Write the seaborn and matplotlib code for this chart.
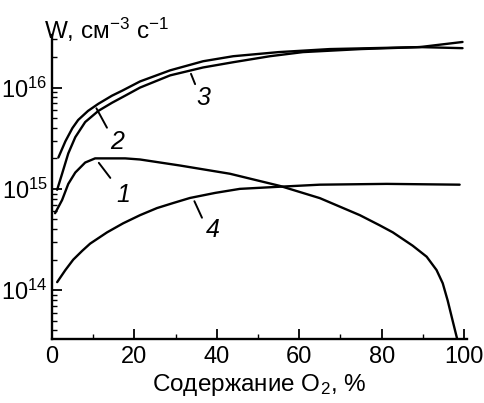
import matplotlib
matplotlib.use("Agg")
import matplotlib.pyplot as plt
import seaborn as sns
import pandas as pd
from matplotlib.ticker import LogLocator, MultipleLocator, NullFormatter

# Кривые скорости W (см^-3 с^-1) от содержания O2 (%)
x1 = [0.8, 2.5, 4.0, 5.7, 8.1, 10.5, 14.6, 17.8, 21.4, 31.1, 43.2, 55.3, 65.0, 74.7, 79.5, 82.7, 87.5,
      90.9, 93.3, 94.8, 96.0, 97.2, 98.3]
w1 = [5.75e14, 7.76e14, 1.12e15, 1.45e15, 1.82e15, 2.0e15, 2.0e15, 2.0e15, 1.95e15, 1.70e15, 1.41e15, 1.07e15,
      8.1e14, 5.5e14, 4.37e14, 3.72e14, 2.75e14, 2.14e14, 1.58e14, 1.17e14, 7.9e13, 5.0e13, 3.3e13]

x2 = [1.6, 3.3, 5.0, 6.4, 8.8, 11.3, 14.6, 17.1, 21.4, 28.7, 36.7, 44.0, 55.0, 67.4, 89.2, 99.6]
w2 = [2.04e15, 2.95e15, 3.98e15, 4.79e15, 5.89e15, 6.92e15, 8.32e15, 9.33e15, 1.15e16, 1.48e16, 1.82e16,
      2.04e16, 2.24e16, 2.40e16, 2.51e16, 2.82e16]

x3 = [1.3, 2.5, 4.0, 5.7, 8.1, 11.3, 14.6, 17.8, 21.4, 28.7, 36.7, 44.0, 52.9, 60.9, 75.0, 89.2, 99.6]
w3 = [9.8e14, 1.41e15, 2.24e15, 3.24e15, 4.57e15, 5.89e15, 7.08e15, 8.32e15, 1.0e16, 1.32e16, 1.58e16,
      1.78e16, 2.04e16, 2.24e16, 2.40e16, 2.51e16, 2.45e16]

x4 = [1.3, 3.3, 5.2, 7.4, 9.3, 13.4, 17.3, 21.4, 25.5, 29.4, 33.5, 39.6, 45.6, 55.3, 65.0, 81.2, 98.9]
w4 = [1.20e14, 1.58e14, 2.0e14, 2.45e14, 2.88e14, 3.72e14, 4.57e14, 5.5e14, 6.46e14, 7.24e14, 8.13e14,
      9.12e14, 1.0e15, 1.05e15, 1.10e15, 1.12e15, 1.10e15]

# подписи кривых: (номер, текст x, текст W, хвост x, хвост W, острие x, острие W)
labels = [
    ("1", 17.3, 8.7e14, 14.6, 1.22e15, 11.0, 1.9e15),
    ("2", 15.9, 2.9e15, 13.7, 3.8e15, 10.5, 6.6e15),
    ("3", 36.7, 7.9e15, 35.0, 1.02e16, 33.5, 1.45e16),
    ("4", 39.1, 3.9e14, 36.7, 4.9e14, 34.3, 8.0e14),
]

df = pd.concat([
    pd.DataFrame({"x": x1, "W": w1, "curve": "1"}),
    pd.DataFrame({"x": x2, "W": w2, "curve": "2"}),
    pd.DataFrame({"x": x3, "W": w3, "curve": "3"}),
    pd.DataFrame({"x": x4, "W": w4, "curve": "4"}),
])

sns.set_style("ticks")
plt.rcParams["font.family"] = ["Liberation Sans", "DejaVu Sans"]
plt.rcParams["mathtext.default"] = "regular"
plt.rcParams["text.color"] = "black"
plt.rcParams["axes.labelcolor"] = "black"
plt.rcParams["xtick.color"] = "black"
plt.rcParams["ytick.color"] = "black"

fig = plt.figure(figsize=(4.84, 4.03), dpi=100)
ax = fig.add_axes([0.107, 0.159, 0.858, 0.754])

sns.lineplot(data=df, x="x", y="W", hue="curve", units="curve", estimator=None,
             palette=["black"] * 4, linewidth=1.7, legend=False, sort=False, ax=ax)

ax.set_yscale("log")
ax.set_xlim(0, 100.7)
ax.set_ylim(3.3e13, 3.3e16)

ax.xaxis.set_major_locator(MultipleLocator(20))
ax.xaxis.set_minor_locator(MultipleLocator(10))
ax.yaxis.set_major_locator(LogLocator(base=10))
ax.yaxis.set_minor_locator(LogLocator(base=10, subs=range(2, 10)))
ax.yaxis.set_minor_formatter(NullFormatter())

ax.tick_params(which="major", direction="in", length=7, width=1.3, labelsize=17)
ax.tick_params(which="minor", direction="in", length=3.5, width=1.0)
ax.tick_params(axis="x", pad=5)
ax.tick_params(axis="y", pad=3)

sns.despine(ax=ax)
for s in ["left", "bottom"]:
    ax.spines[s].set_linewidth(1.7)
    ax.spines[s].set_color("black")

ax.set_xlabel("Содержание O$_2$, %", fontsize=17.5, labelpad=3)
ax.set_ylabel("")
fig.text(0.09, 0.927, "W, см$^{-3}$ с$^{-1}$", fontsize=17.5, ha="left", va="center")

for name, tx, tw, ax0, aw0, ax1, aw1 in labels:
    ax.text(tx, tw, name, fontsize=18, style="italic", ha="center", va="center")
    ax.annotate("", xy=(ax1, aw1), xytext=(ax0, aw0),
                arrowprops=dict(arrowstyle="-", color="black", lw=1.4))

fig.savefig("out.png", dpi=100)
